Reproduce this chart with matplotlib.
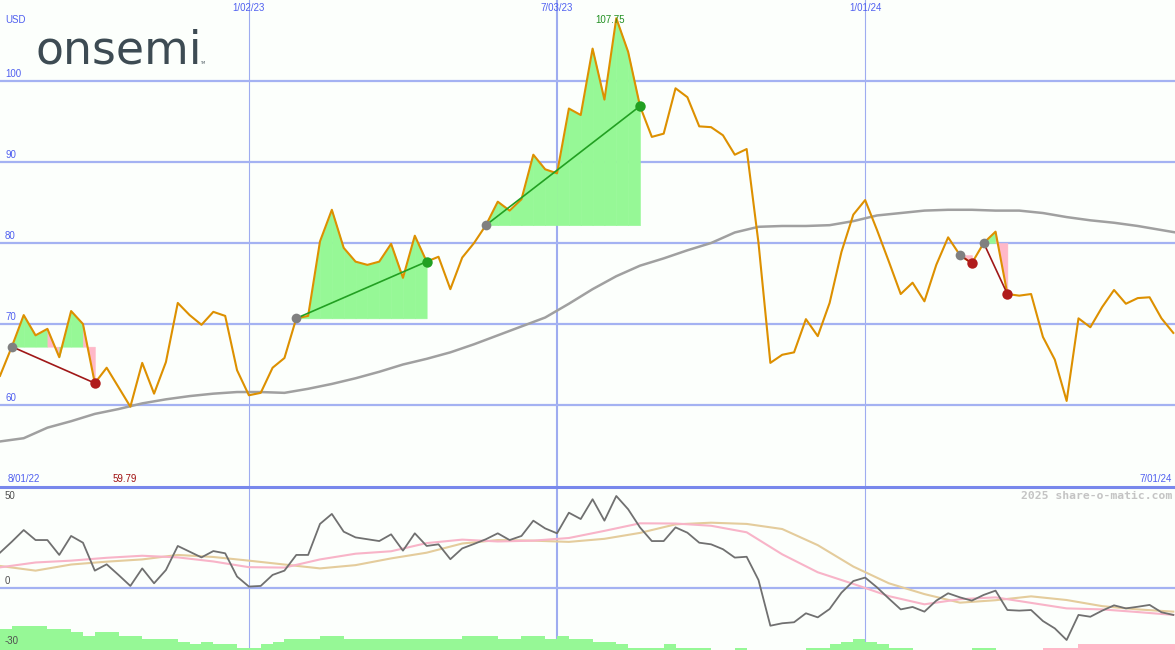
import numpy as np
import pandas as pd
import matplotlib
matplotlib.use("Agg")
import matplotlib.pyplot as plt
import matplotlib.dates as mdates
import matplotlib.transforms as mtransforms

# weekly closes (USD)
dates = pd.date_range("2022-08-08", periods=100, freq="7D")
price = [63.6, 67.2, 71.1, 68.6, 69.4, 65.9, 71.6, 70.0, 62.7, 64.6,
         62.2, 59.79, 65.2, 61.4, 65.3, 72.6, 71.1, 69.9, 71.5, 71.0,
         64.3, 61.2, 61.5, 64.6, 65.8, 70.7, 71.0, 80.2, 84.1, 79.4,
         77.7, 77.3, 77.7, 79.9, 75.7, 80.9, 77.7, 78.3, 74.3, 78.2,
         80.0, 82.2, 85.1, 84.0, 85.4, 90.9, 89.1, 88.6, 96.6, 95.8,
         104.0, 97.7, 107.75, 103.6, 96.9, 93.1, 93.5, 99.1, 98.0, 94.4,
         94.3, 93.3, 90.9, 91.6, 80.0, 65.2, 66.2, 66.5, 70.6, 68.5,
         72.6, 78.9, 83.5, 85.3, 81.6, 77.7, 73.7, 75.1, 72.8, 77.3,
         80.7, 78.5, 77.5, 80.0, 81.4, 73.7, 73.5, 73.7, 68.4, 65.6,
         60.5, 70.7, 69.6, 72.1, 74.2, 72.5, 73.2, 73.3, 70.7, 68.9]

# long moving average (every 2 weeks)
ma_dates = pd.date_range("2022-08-08", periods=51, freq="14D")
ma_long = [55.5, 55.9, 57.2, 58.0, 58.9, 59.5, 60.2, 60.7, 61.1, 61.4,
           61.6, 61.6, 61.5, 62.0, 62.6, 63.3, 64.1, 65.0, 65.7, 66.5,
           67.5, 68.6, 69.7, 70.8, 72.5, 74.3, 75.9, 77.2, 78.1, 79.1,
           80.0, 81.3, 82.0, 82.1, 82.1, 82.2, 82.7, 83.4, 83.7, 84.0,
           84.1, 84.1, 84.0, 84.0, 83.7, 83.2, 82.8, 82.5, 82.1, 81.6, 81.1]

# lower panel oscillator
osc = [17.3, 22.7, 28.4, 23.5, 23.5, 16.2, 25.5, 22.2, 8.5, 11.6,
       6.4, 1.0, 9.6, 2.3, 8.8, 20.6, 17.8, 15.0, 18.1, 17.0,
       5.6, 0.7, 1.0, 6.4, 8.5, 16.2, 16.2, 31.4, 36.3, 27.6,
       24.8, 23.9, 23.0, 26.3, 18.3, 26.8, 20.6, 21.4, 14.1, 19.4,
       21.6, 23.9, 26.8, 23.5, 25.5, 33.0, 29.2, 26.8, 36.9, 33.8,
       43.5, 33.0, 45.1, 38.6, 29.7, 23.0, 23.0, 29.7, 27.1, 22.2,
       21.4, 19.0, 14.9, 15.3, 3.9, -18.5, -17.3, -16.8, -12.4, -14.4,
       -10.3, -2.3, 3.4, 5.1, 0.3, -5.2, -10.5, -9.3, -11.6, -6.2,
       -2.6, -4.6, -6.2, -3.4, -1.3, -10.8, -11.1, -10.8, -16.2, -19.8,
       -25.5, -13.2, -14.1, -11.1, -8.5, -10.0, -9.2, -8.3, -11.9, -13.2]

sm_dates = pd.date_range("2022-08-08", periods=34, freq="21D")
osc_pink = [10.1, 12.5, 13.4, 14.8, 15.8, 15.0, 13.0, 10.2, 10.0, 14.0,
            16.8, 18.0, 22.0, 23.7, 22.8, 23.2, 24.5, 28.0, 31.7, 31.6,
            30.5, 27.3, 16.5, 7.7, 2.0, -4.0, -8.0, -5.5, -4.6, -7.3,
            -10.0, -10.5, -11.8, -13.2]
osc_tan = [10.8, 8.5, 11.5, 12.9, 14.0, 16.2, 15.2, 13.4, 11.5, 9.6,
           11.2, 14.5, 17.3, 21.8, 23.5, 23.2, 22.6, 24.1, 27.0, 31.2,
           32.0, 31.4, 28.9, 21.0, 10.5, 2.3, -3.0, -7.2, -6.0, -4.1,
           -5.9, -8.9, -10.5, -11.6]

hist = [10.5, 11.9, 11.9, 11.9, 10.5, 10.5, 8.9, 7.0, 8.9, 8.9,
        7.0, 7.0, 5.6, 5.6, 5.6, 4.0, 2.7, 4.0, 2.7, 2.7,
        1.2, 1.2, 2.7, 4.0, 5.6, 5.6, 5.6, 7.0, 7.0, 5.6,
        5.6, 5.6, 5.6, 5.6, 5.6, 5.6, 5.6, 5.6, 5.6, 7.0,
        7.0, 7.0, 5.6, 5.6, 7.0, 7.0, 5.6, 7.0, 5.6, 5.6,
        4.0, 4.0, 2.7, 1.2, 1.2, 1.2, 2.7, 1.2, 1.2, 1.2,
        0, 0, 1.2, 0, 0, 0, 0, 0, 1.2, 1.2,
        2.7, 4.0, 5.6, 4.0, 2.7, 1.2, 1.2, 0, 0, 0,
        0, 0, 1.2, 1.2, 0, 0, 0, 0, -1.2, -1.2,
        -1.2, -2.7, -2.7, -2.7, -2.7, -2.7, -2.7, -2.7, -2.7, -2.7]

entry_idx = [1, 25, 41, 81, 83]
exit_idx = [8, 36, 54, 82, 85]

grid_dates = pd.to_datetime(["2023-01-02", "2023-07-03", "2024-01-01"])
grid_labels = ["1/02/23", "7/03/23", "1/01/24"]
grid_widths = [0.8, 1.5, 0.8]
price_ticks = [60, 70, 80, 90, 100]

BG = "#fcfffc"
GRID = "#a4b2f2"
VGRID = "#9eacf0"
LBL = "#5060f0"
GREEN_FILL = "#96f896"
PINK_FILL = "#ffb8c8"
PRICE_C = "#dd9000"

fig = plt.figure(figsize=(11.75, 6.5), dpi=100, facecolor=BG)
ax2 = fig.add_axes([0, 0, 1, 163 / 650], facecolor=BG)
ax = fig.add_axes([0, 163 / 650, 1, 487 / 650], facecolor=BG)
ax.set_zorder(2)
ax2.set_zorder(1)

x_left = dates[0]
x_right = dates[0] + pd.Timedelta(days=694)
for a in (ax, ax2):
    a.set_xlim(x_left, x_right)
    a.set_xticks([])
    a.set_yticks([])
    for s in a.spines.values():
        s.set_visible(False)
    for d, w in zip(grid_dates, grid_widths):
        a.axvline(d, color=VGRID, lw=w, zorder=0)

ax.set_ylim(110 - 487 / 8.1, 110)
ax2.set_ylim(-30.4, 49.5)

for t in price_ticks:
    ax.axhline(t, color=GRID, lw=1.6, zorder=0)
ax2.axhline(0, color=GRID, lw=1.6, zorder=0)
ax.spines["bottom"].set_visible(True)
ax.spines["bottom"].set_color("#7888ec")
ax.spines["bottom"].set_linewidth(2.2)

p = np.array(price)

# trades: each weekly segment shaded against entry level,
# coloured by where the segment ends
for e, x in zip(entry_idx, exit_idx):
    lvl = p[e]
    for i in range(e, x):
        c = GREEN_FILL if p[i + 1] >= lvl else PINK_FILL
        ax.fill_between(dates[i:i + 2], p[i:i + 2], lvl, facecolor=c,
                        edgecolor=c, lw=0.4, zorder=1)

ax.plot(ma_dates, ma_long, color="#a0a0a0", lw=1.8, zorder=2)
ax.plot(dates, p, color=PRICE_C, lw=1.5, zorder=3)

for e, x in zip(entry_idx, exit_idx):
    gain = p[x] > p[e]
    lc = "#22a022" if gain else "#a01818"
    mc = "#22a022" if gain else "#b01c1c"
    ax.plot([dates[e], dates[x]], [p[e], p[x]], color=lc, lw=1.2, zorder=4)
    ax.plot(dates[e], p[e], "o", color="#808080", ms=7, mew=0, zorder=5)
    ax.plot(dates[x], p[x], "o", color=mc, ms=7.5, mew=0, zorder=5)

# labels
font = "Liberation Sans"
yt = mtransforms.blended_transform_factory(ax.transAxes, ax.transData)
xt = mtransforms.blended_transform_factory(ax.transData, ax.transAxes)
for t in price_ticks:
    ax.annotate(str(t), (0, t), xycoords=yt, xytext=(5, 2), textcoords="offset pixels",
                ha="left", va="bottom", color=LBL, fontsize=7, family=font)
ax.text(5 / 1175, 1 - 20 / 487, "USD", transform=ax.transAxes, ha="left",
        va="center", color=LBL, fontsize=7, family=font)

for d, lab in zip(grid_dates, grid_labels):
    ax.text(mdates.date2num(d), 1 - 8 / 487, lab, transform=xt, ha="center",
            va="center", color=LBL, fontsize=7, family=font)
ax.text(8 / 1175, 8 / 487, "8/01/22", transform=ax.transAxes, ha="left",
        va="center", color=LBL, fontsize=7, family=font)
ax.text(1 - 3 / 1175, 8 / 487, "7/01/24", transform=ax.transAxes, ha="right",
        va="center", color=LBL, fontsize=7, family=font)

imax = int(np.argmax(p))
imin = int(np.argmin(p))
ax.annotate(f"{p[imax]:.2f}", (mdates.date2num(dates[imax]), p[imax]), xytext=(-6, -2),
            textcoords="offset pixels", ha="center", va="center",
            color="#229022", fontsize=7, family=font, zorder=6)
ax.annotate(f"{p[imin]:.2f}", (mdates.date2num(dates[imin]), 0), xycoords=xt,
            xytext=(-6, 8), textcoords="offset pixels", ha="center", va="center",
            color="#a01010", fontsize=7, family=font)

# logo
fig.text(35 / 1175, 1 - 63 / 650, "onsemi", ha="left", va="baseline",
         color="#3d4b53", fontsize=33, family="DejaVu Sans", zorder=10)
fig.text(200 / 1175, 1 - 64 / 650, "TM", ha="left", va="baseline",
         color="#3d4b53", fontsize=2.5, zorder=10)

# lower panel
h = np.array(hist)
ax2.bar(dates, np.abs(h), width=7, bottom=-30.4, align="edge",
        color=[GREEN_FILL if v > 0 else PINK_FILL for v in h], lw=0, zorder=1)
ax2.plot(sm_dates, osc_tan, color="#e4cc9c", lw=1.5, zorder=2)
ax2.plot(sm_dates, osc_pink, color="#f8b4c8", lw=1.5, zorder=2)
ax2.plot(dates, osc, color="#707070", lw=1.3, zorder=3)

yt2 = mtransforms.blended_transform_factory(ax2.transAxes, ax2.transData)
ax2.text(5 / 1175, 1 - 9 / 163, "50", transform=ax2.transAxes, ha="left",
         va="center", color="#505050", fontsize=7, family=font)
ax2.annotate("0", (0, 0), xycoords=yt2, xytext=(5, 2), textcoords="offset pixels",
             ha="left", va="bottom", color="#505050", fontsize=7, family=font)
ax2.text(5 / 1175, 9 / 163, "-30", transform=ax2.transAxes, ha="left",
         va="center", color="#505050", fontsize=7, family=font)
ax2.text(1 - 3 / 1175, 1 - 9 / 163, "2025 share-o-matic.com", transform=ax2.transAxes,
         ha="right", va="center", color="#c4c4c4", fontsize=8.2,
         family="DejaVu Sans Mono", fontweight="bold")

fig.savefig("out.png", dpi=100, facecolor=BG)
